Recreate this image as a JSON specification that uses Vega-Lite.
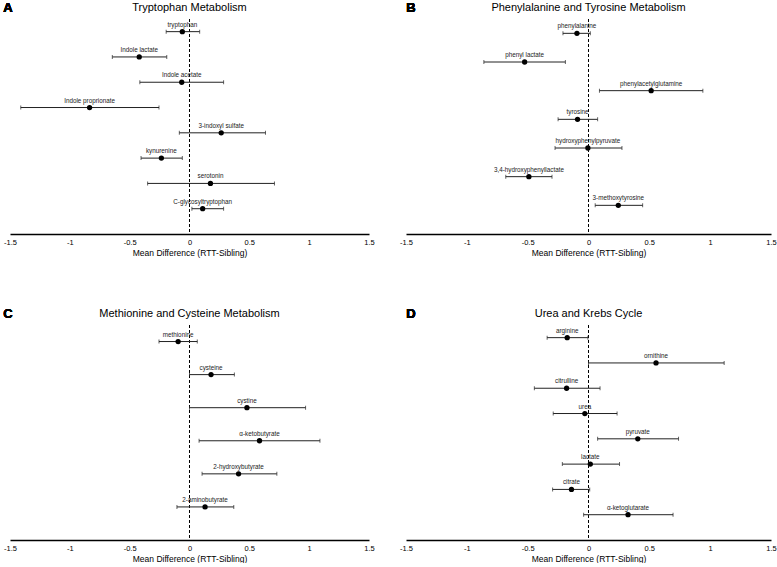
{
  "$schema": "https://vega.github.io/schema/vega-lite/v6.json",
  "padding": {"left": 3, "top": 2, "right": 0, "bottom": 0},
  "bounds": "flush",
  "columns": 2,
  "spacing": {"row": 91, "column": 37},
  "config": {
    "view": {"stroke": null},
    "font": "Liberation Sans",
    "title": {"fontSize": 11, "fontWeight": "normal", "color": "black", "offset": -11, "anchor": "middle", "frame": "group"},
    "axis": {
      "domainColor": "black", "domainWidth": 1.5, "ticks": false, "grid": false,
      "labelFontSize": 7.5, "labelColor": "black", "labelPadding": 4,
      "labelFlush": false, "labelOverlap": false,
      "titleFontSize": 8.5, "titleFontWeight": "normal", "titleColor": "black", "titlePadding": 3
    }
  },
  "datasets": {
    "forest": [
      {"panel": "A", "row": 1, "name": "tryptophan", "mean": -0.06, "lo": -0.195, "hi": 0.085},
      {"panel": "A", "row": 2, "name": "Indole lactate", "mean": -0.42, "lo": -0.645, "hi": -0.19},
      {"panel": "A", "row": 3, "name": "Indole acetate", "mean": -0.065, "lo": -0.415, "hi": 0.285},
      {"panel": "A", "row": 4, "name": "Indole proprionate", "mean": -0.835, "lo": -1.41, "hi": -0.255},
      {"panel": "A", "row": 5, "name": "3-indoxyl sulfate", "mean": 0.265, "lo": -0.085, "hi": 0.635},
      {"panel": "A", "row": 6, "name": "kynurenine", "mean": -0.235, "lo": -0.405, "hi": -0.06},
      {"panel": "A", "row": 7, "name": "serotonin", "mean": 0.175, "lo": -0.35, "hi": 0.71},
      {"panel": "A", "row": 8, "name": "C-glycosyltryptophan", "mean": 0.11, "lo": 0.02, "hi": 0.285},
      {"panel": "B", "row": 1, "name": "phenylalanine", "mean": -0.095, "lo": -0.21, "hi": 0.015},
      {"panel": "B", "row": 2, "name": "phenyl lactate", "mean": -0.525, "lo": -0.86, "hi": -0.19},
      {"panel": "B", "row": 3, "name": "phenylacetylglutamine", "mean": 0.515, "lo": 0.09, "hi": 0.94},
      {"panel": "B", "row": 4, "name": "tyrosine", "mean": -0.09, "lo": -0.25, "hi": 0.075},
      {"panel": "B", "row": 5, "name": "hydroxyphenylpyruvate", "mean": -0.005, "lo": -0.275, "hi": 0.275},
      {"panel": "B", "row": 6, "name": "3,4-hydroxyphenyllactate", "mean": -0.49, "lo": -0.68, "hi": -0.3},
      {"panel": "B", "row": 7, "name": "3-methoxytyrosine", "mean": 0.245, "lo": 0.055, "hi": 0.445},
      {"panel": "C", "row": 1, "name": "methionine", "mean": -0.095, "lo": -0.255, "hi": 0.065},
      {"panel": "C", "row": 2, "name": "cysteine", "mean": 0.18, "lo": 0.0, "hi": 0.375},
      {"panel": "C", "row": 3, "name": "cystine", "mean": 0.48, "lo": 0.0, "hi": 0.97},
      {"panel": "C", "row": 4, "name": "α-ketobutyrate", "mean": 0.585, "lo": 0.08, "hi": 1.09},
      {"panel": "C", "row": 5, "name": "2-hydroxybutyrate", "mean": 0.41, "lo": 0.105, "hi": 0.73},
      {"panel": "C", "row": 6, "name": "2-aminobutyrate", "mean": 0.13, "lo": -0.105, "hi": 0.37},
      {"panel": "D", "row": 1, "name": "arginine", "mean": -0.175, "lo": -0.34, "hi": -0.005},
      {"panel": "D", "row": 2, "name": "ornithine", "mean": 0.555, "lo": 0.0, "hi": 1.115},
      {"panel": "D", "row": 3, "name": "citrulline", "mean": -0.18, "lo": -0.445, "hi": 0.095},
      {"panel": "D", "row": 4, "name": "urea", "mean": -0.03, "lo": -0.29, "hi": 0.235},
      {"panel": "D", "row": 5, "name": "pyruvate", "mean": 0.405, "lo": 0.075, "hi": 0.74},
      {"panel": "D", "row": 6, "name": "lactate", "mean": 0.015, "lo": -0.215, "hi": 0.255},
      {"panel": "D", "row": 7, "name": "citrate", "mean": -0.14, "lo": -0.295, "hi": 0.01},
      {"panel": "D", "row": 8, "name": "α-ketoglutarate", "mean": 0.325, "lo": -0.04, "hi": 0.695}
    ]
  },
  "concat": [
    {
      "width": 359, "height": 215,
      "title": "Tryptophan Metabolism",
      "data": {"name": "forest"},
      "transform": [{"filter": "datum.panel == 'A'"}],
      "layer": [
        {"mark": {"type": "rule", "color": "black", "strokeDash": [3, 2], "strokeWidth": 1}, "encoding": {"x": {"datum": 0, "type": "quantitative", "scale": {"domain": [-1.5, 1.5], "nice": false, "zero": false}, "axis": {"values": [-1.5, -1, -0.5, 0, 0.5, 1, 1.5], "labelExpr": "'' + datum.value", "title": "Mean Difference (RTT-Sibling)"}}}},
        {"mark": {"type": "rule", "color": "#222", "strokeWidth": 1}, "encoding": {"x": {"field": "lo", "type": "quantitative", "scale": {"domain": [-1.5, 1.5], "nice": false, "zero": false}}, "x2": {"field": "hi"}, "y": {"field": "row", "type": "quantitative", "scale": {"domain": [0.5, 9], "nice": false, "zero": false, "reverse": true}, "axis": null}}},
        {"mark": {"type": "tick", "orient": "vertical", "color": "#222", "size": 4, "thickness": 1}, "encoding": {"x": {"field": "lo", "type": "quantitative"}, "y": {"field": "row", "type": "quantitative"}}},
        {"mark": {"type": "tick", "orient": "vertical", "color": "#222", "size": 4, "thickness": 1}, "encoding": {"x": {"field": "hi", "type": "quantitative"}, "y": {"field": "row", "type": "quantitative"}}},
        {"mark": {"type": "point", "filled": true, "color": "black", "size": 28, "opacity": 1}, "encoding": {"x": {"field": "mean", "type": "quantitative"}, "y": {"field": "row", "type": "quantitative"}}},
        {"mark": {"type": "text", "fontSize": 6.3, "baseline": "bottom", "dy": -4, "color": "#222"}, "encoding": {"x": {"field": "mean", "type": "quantitative"}, "y": {"field": "row", "type": "quantitative"}, "text": {"field": "name"}}},
        {"mark": {"type": "text", "fontSize": 13, "fontWeight": "bold", "baseline": "middle", "align": "center", "dy": -11, "dx": -2, "color": "black", "text": "A"}, "encoding": {"x": {"datum": -1.5, "type": "quantitative"}, "y": {"datum": 0.5, "type": "quantitative"}}}
      ]
    },
    {
      "width": 365, "height": 215,
      "title": "Phenylalanine and Tyrosine Metabolism",
      "data": {"name": "forest"},
      "transform": [{"filter": "datum.panel == 'B'"}],
      "layer": [
        {"mark": {"type": "rule", "color": "black", "strokeDash": [3, 2], "strokeWidth": 1}, "encoding": {"x": {"datum": 0, "type": "quantitative", "scale": {"domain": [-1.5, 1.5], "nice": false, "zero": false}, "axis": {"values": [-1.5, -1, -0.5, 0, 0.5, 1, 1.5], "labelExpr": "'' + datum.value", "title": "Mean Difference (RTT-Sibling)"}}}},
        {"mark": {"type": "rule", "color": "#222", "strokeWidth": 1}, "encoding": {"x": {"field": "lo", "type": "quantitative", "scale": {"domain": [-1.5, 1.5], "nice": false, "zero": false}}, "x2": {"field": "hi"}, "y": {"field": "row", "type": "quantitative", "scale": {"domain": [0.5, 8], "nice": false, "zero": false, "reverse": true}, "axis": null}}},
        {"mark": {"type": "tick", "orient": "vertical", "color": "#222", "size": 4, "thickness": 1}, "encoding": {"x": {"field": "lo", "type": "quantitative"}, "y": {"field": "row", "type": "quantitative"}}},
        {"mark": {"type": "tick", "orient": "vertical", "color": "#222", "size": 4, "thickness": 1}, "encoding": {"x": {"field": "hi", "type": "quantitative"}, "y": {"field": "row", "type": "quantitative"}}},
        {"mark": {"type": "point", "filled": true, "color": "black", "size": 28, "opacity": 1}, "encoding": {"x": {"field": "mean", "type": "quantitative"}, "y": {"field": "row", "type": "quantitative"}}},
        {"mark": {"type": "text", "fontSize": 6.3, "baseline": "bottom", "dy": -4, "color": "#222"}, "encoding": {"x": {"field": "mean", "type": "quantitative"}, "y": {"field": "row", "type": "quantitative"}, "text": {"field": "name"}}},
        {"mark": {"type": "text", "fontSize": 13, "fontWeight": "bold", "baseline": "middle", "align": "center", "dy": -11, "dx": 5, "color": "black", "text": "B"}, "encoding": {"x": {"datum": -1.5, "type": "quantitative"}, "y": {"datum": 0.5, "type": "quantitative"}}}
      ]
    },
    {
      "width": 359, "height": 215,
      "title": "Methionine and Cysteine Metabolism",
      "data": {"name": "forest"},
      "transform": [{"filter": "datum.panel == 'C'"}],
      "layer": [
        {"mark": {"type": "rule", "color": "black", "strokeDash": [3, 2], "strokeWidth": 1}, "encoding": {"x": {"datum": 0, "type": "quantitative", "scale": {"domain": [-1.5, 1.5], "nice": false, "zero": false}, "axis": {"values": [-1.5, -1, -0.5, 0, 0.5, 1, 1.5], "labelExpr": "'' + datum.value", "title": "Mean Difference (RTT-Sibling)"}}}},
        {"mark": {"type": "rule", "color": "#222", "strokeWidth": 1}, "encoding": {"x": {"field": "lo", "type": "quantitative", "scale": {"domain": [-1.5, 1.5], "nice": false, "zero": false}}, "x2": {"field": "hi"}, "y": {"field": "row", "type": "quantitative", "scale": {"domain": [0.5, 7], "nice": false, "zero": false, "reverse": true}, "axis": null}}},
        {"mark": {"type": "tick", "orient": "vertical", "color": "#222", "size": 4, "thickness": 1}, "encoding": {"x": {"field": "lo", "type": "quantitative"}, "y": {"field": "row", "type": "quantitative"}}},
        {"mark": {"type": "tick", "orient": "vertical", "color": "#222", "size": 4, "thickness": 1}, "encoding": {"x": {"field": "hi", "type": "quantitative"}, "y": {"field": "row", "type": "quantitative"}}},
        {"mark": {"type": "point", "filled": true, "color": "black", "size": 28, "opacity": 1}, "encoding": {"x": {"field": "mean", "type": "quantitative"}, "y": {"field": "row", "type": "quantitative"}}},
        {"mark": {"type": "text", "fontSize": 6.3, "baseline": "bottom", "dy": -4, "color": "#222"}, "encoding": {"x": {"field": "mean", "type": "quantitative"}, "y": {"field": "row", "type": "quantitative"}, "text": {"field": "name"}}},
        {"mark": {"type": "text", "fontSize": 13, "fontWeight": "bold", "baseline": "middle", "align": "center", "dy": -11, "dx": -2, "color": "black", "text": "C"}, "encoding": {"x": {"datum": -1.5, "type": "quantitative"}, "y": {"datum": 0.5, "type": "quantitative"}}}
      ]
    },
    {
      "width": 365, "height": 215,
      "title": "Urea and Krebs Cycle",
      "data": {"name": "forest"},
      "transform": [{"filter": "datum.panel == 'D'"}],
      "layer": [
        {"mark": {"type": "rule", "color": "black", "strokeDash": [3, 2], "strokeWidth": 1}, "encoding": {"x": {"datum": 0, "type": "quantitative", "scale": {"domain": [-1.5, 1.5], "nice": false, "zero": false}, "axis": {"values": [-1.5, -1, -0.5, 0, 0.5, 1, 1.5], "labelExpr": "'' + datum.value", "title": "Mean Difference (RTT-Sibling)"}}}},
        {"mark": {"type": "rule", "color": "#222", "strokeWidth": 1}, "encoding": {"x": {"field": "lo", "type": "quantitative", "scale": {"domain": [-1.5, 1.5], "nice": false, "zero": false}}, "x2": {"field": "hi"}, "y": {"field": "row", "type": "quantitative", "scale": {"domain": [0.5, 9], "nice": false, "zero": false, "reverse": true}, "axis": null}}},
        {"mark": {"type": "tick", "orient": "vertical", "color": "#222", "size": 4, "thickness": 1}, "encoding": {"x": {"field": "lo", "type": "quantitative"}, "y": {"field": "row", "type": "quantitative"}}},
        {"mark": {"type": "tick", "orient": "vertical", "color": "#222", "size": 4, "thickness": 1}, "encoding": {"x": {"field": "hi", "type": "quantitative"}, "y": {"field": "row", "type": "quantitative"}}},
        {"mark": {"type": "point", "filled": true, "color": "black", "size": 28, "opacity": 1}, "encoding": {"x": {"field": "mean", "type": "quantitative"}, "y": {"field": "row", "type": "quantitative"}}},
        {"mark": {"type": "text", "fontSize": 6.3, "baseline": "bottom", "dy": -4, "color": "#222"}, "encoding": {"x": {"field": "mean", "type": "quantitative"}, "y": {"field": "row", "type": "quantitative"}, "text": {"field": "name"}}},
        {"mark": {"type": "text", "fontSize": 13, "fontWeight": "bold", "baseline": "middle", "align": "center", "dy": -11, "dx": 5, "color": "black", "text": "D"}, "encoding": {"x": {"datum": -1.5, "type": "quantitative"}, "y": {"datum": 0.5, "type": "quantitative"}}}
      ]
    }
  ]
}
